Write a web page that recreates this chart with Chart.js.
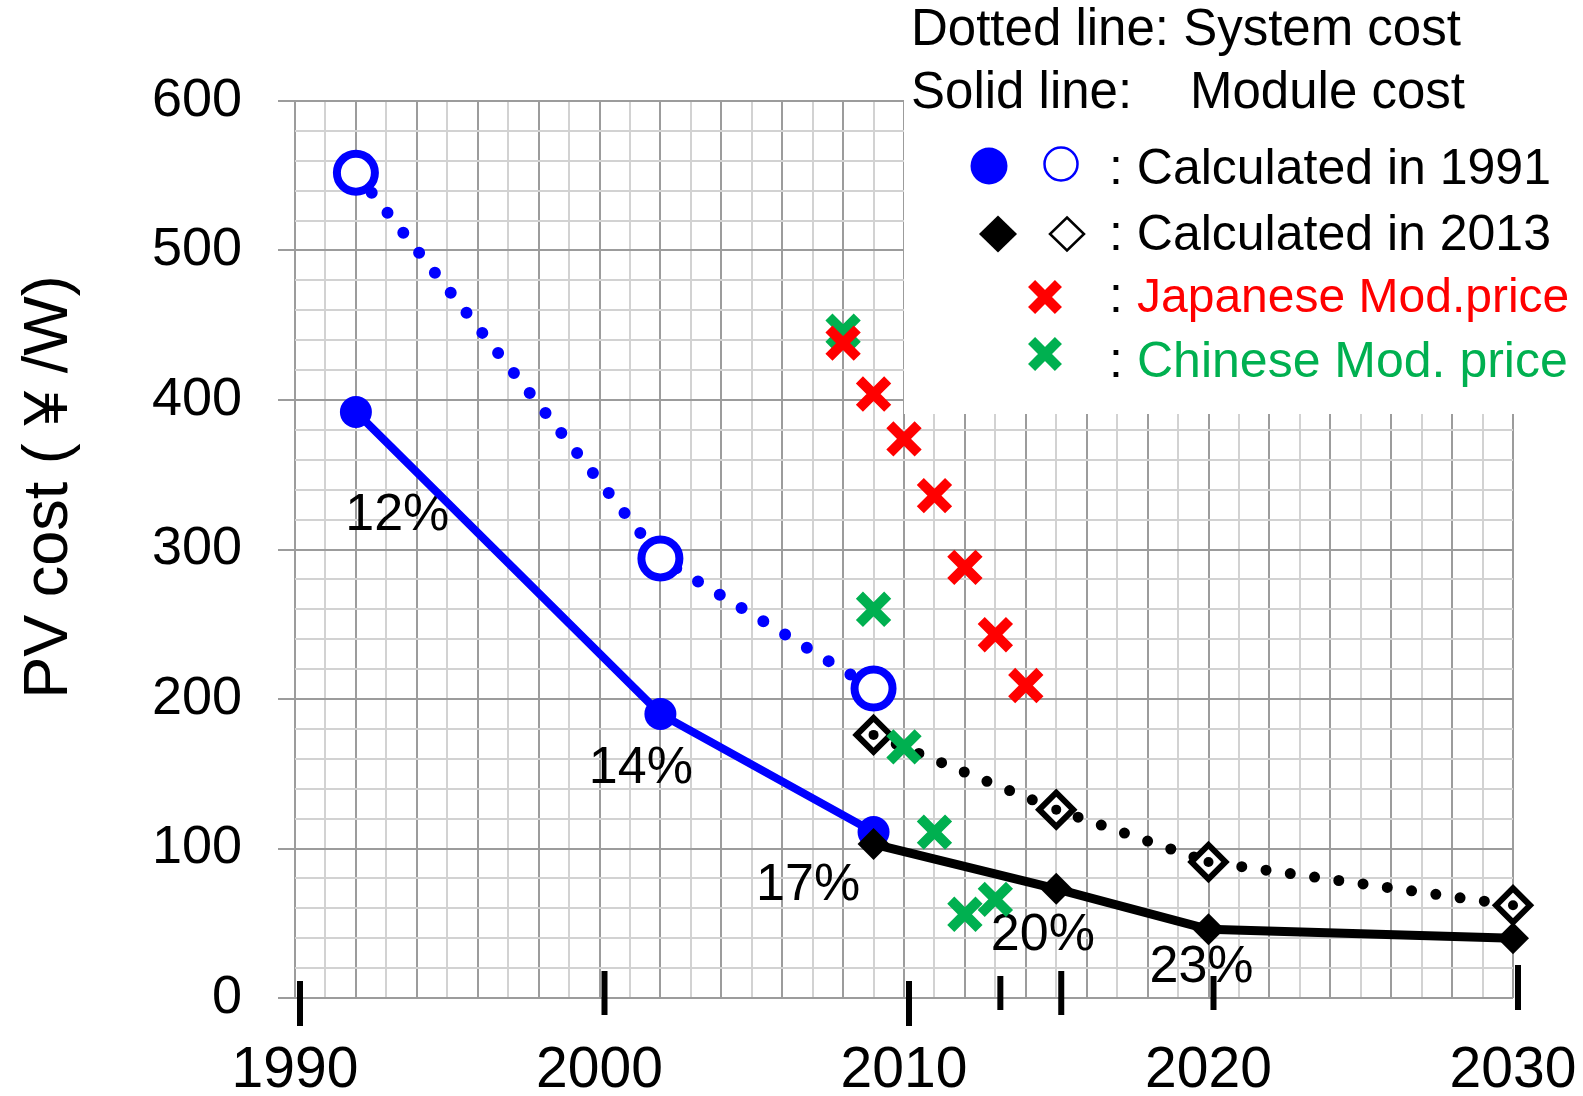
<!DOCTYPE html>
<html>
<head>
<meta charset="utf-8">
<script src="https://cdn.jsdelivr.net/npm/chart.js@4.4.0/dist/chart.umd.min.js"></script>
<style>
html, body { margin: 0; padding: 0; background: #fff; }
#wrap { width: 1583px; height: 1096px; position: relative; }
</style>
</head>
<body>
<div id="wrap"><canvas id="pvCost"></canvas></div>
<script>
// cost calculated in 1991
var years1991 = [1992, 2002, 2009]
var moduleCost1991 = [392, 190, 111]
var systemCost1991 = [552, 294, 207]

// cost calculated in 2013
var years2013 = [2009, 2015, 2020, 2030]
var moduleCost2013 = [103, 73, 46, 40]
var systemCost2013 = [176, 126, 91, 62]

// module market prices
var japanYears = [2008, 2009, 2010, 2011, 2012, 2013, 2014]
var japanPrice = [438, 404, 374, 336, 288, 243, 209]
var chinaYears = [2008, 2009, 2010, 2011, 2012, 2013]
var chinaPrice = [446, 260, 168, 111, 56, 66]

// learning rates next to the module cost lines
var rateLabels = ['12%', '14%', '17%', '20%', '23%']

// axes
var xTickLabels = [1990, 2000, 2010, 2020, 2030]
var yTickLabels = [0, 100, 200, 300, 400, 500, 600]
var markYears = [1990, 2000, 2010, 2013, 2015, 2020, 2030]
var yTitle = 'PV cost ( ¥ /W)'

var BLUE = '#0000ff'
var RED = '#ff0000'
var GREEN = '#00b050'
var FONT = "'Liberation Sans', Arial, sans-serif"

// where the rate labels sit (in data units) and the little "|" marks under the axis
var ratePos = [[1993.36, 322.5], [2001.36, 153.6], [2006.85, 75], [2014.56, 41.6], [2019.77, 20.2]]
var markSpans = [[981, 1026], [971, 1015], [981, 1026], [976, 1010], [971, 1015], [976, 1010], [965, 1010]]

function toPoints(xs, ys) {
    var pts = new Array()
    for (var i = 0; i < xs.length; i++) {
        pts.push({x: xs[i], y: ys[i]})
    }
    return pts
}

function drawCross(ctx, x, y, r, color, w) {
    var d = r * Math.SQRT1_2
    ctx.save()
    ctx.strokeStyle = color
    ctx.lineWidth = w
    ctx.beginPath()
    ctx.moveTo(x - d, y - d); ctx.lineTo(x + d, y + d)
    ctx.moveTo(x + d, y - d); ctx.lineTo(x - d, y + d)
    ctx.stroke()
    ctx.restore()
}

function diamond(ctx, x, y, hw, hh) {
    ctx.beginPath()
    ctx.moveTo(x, y - hh)
    ctx.lineTo(x + hw, y)
    ctx.lineTo(x, y + hh)
    ctx.lineTo(x - hw, y)
    ctx.closePath()
}

var overlay = {
    id: 'overlay',
    beforeDatasetsDraw: function(chart) {
        var ctx = chart.ctx
        var xs = chart.scales.x, ys = chart.scales.y
        ctx.save()
        // white legend box hides the grid in the top right
        ctx.fillStyle = '#fff'
        ctx.fillRect(904, 0, chart.width - 904, 414)
        // learning rates
        ctx.fillStyle = '#000'
        ctx.font = '52px ' + FONT
        ctx.textAlign = 'center'
        ctx.textBaseline = 'middle'
        for (var i = 0; i < rateLabels.length; i++) {
            ctx.fillText(rateLabels[i], xs.getPixelForValue(ratePos[i][0]), ys.getPixelForValue(ratePos[i][1]))
        }
        ctx.restore()
    },
    afterDatasetsDraw: function(chart) {
        var ctx = chart.ctx
        var xs = chart.scales.x
        ctx.save()
        ctx.strokeStyle = '#000'
        ctx.lineWidth = 6
        for (var i = 0; i < markYears.length; i++) {
            var px = xs.getPixelForValue(markYears[i]) + 5
            ctx.beginPath()
            ctx.moveTo(px, markSpans[i][0])
            ctx.lineTo(px, markSpans[i][1])
            ctx.stroke()
        }

        // y axis title
        ctx.save()
        ctx.translate(67, 487)
        ctx.rotate(-Math.PI / 2)
        ctx.fillStyle = '#000'
        ctx.font = '63px ' + FONT
        ctx.textAlign = 'center'
        ctx.textBaseline = 'alphabetic'
        ctx.fillText(yTitle, 0, 0)
        ctx.restore()

        // legend
        ctx.textAlign = 'left'
        ctx.textBaseline = 'alphabetic'
        ctx.fillStyle = '#000'
        ctx.font = '51px ' + FONT
        ctx.fillText('Dotted line: System cost', 911, 45)
        ctx.fillText('Solid line:', 911, 108)
        ctx.fillText('Module cost', 1190, 108)

        ctx.font = '50px ' + FONT
        ctx.fillStyle = BLUE
        ctx.beginPath(); ctx.arc(989, 166, 18.5, 0, Math.PI * 2); ctx.fill()
        ctx.strokeStyle = BLUE
        ctx.lineWidth = 2.5
        ctx.beginPath(); ctx.arc(1061, 164, 16.5, 0, Math.PI * 2); ctx.stroke()
        ctx.fillStyle = '#000'
        ctx.fillText(': Calculated in 1991', 1109, 184)

        diamond(ctx, 998, 234, 19, 18.5); ctx.fill()
        ctx.strokeStyle = '#000'
        diamond(ctx, 1067, 234, 17, 16.5); ctx.stroke()
        ctx.fillText(': Calculated in 2013', 1109, 250)

        drawCross(ctx, 1045, 297, 19, RED, 10)
        ctx.fillStyle = '#000'
        ctx.fillText(':', 1109, 312)
        ctx.font = '48px ' + FONT
        ctx.fillStyle = RED
        ctx.fillText('Japanese Mod.price', 1137, 312)

        ctx.font = '50px ' + FONT
        drawCross(ctx, 1045, 354, 19, GREEN, 10)
        ctx.fillStyle = '#000'
        ctx.fillText(':', 1109, 377)
        ctx.fillStyle = GREEN
        ctx.fillText('Chinese Mod. price', 1137, 377)
        ctx.restore()
    }
}

var canvas = document.querySelector('#pvCost')

var pvChart = new Chart(canvas, {
    type: 'scatter',
    data: {
        datasets: [
            {   // centre dots of the open diamonds
                data: toPoints(years2013, systemCost2013),
                showLine: false,
                pointStyle: 'circle',
                pointRadius: 5,
                pointBackgroundColor: '#000',
                pointBorderWidth: 0
            },
            {
                label: 'Japanese Mod.price',
                data: toPoints(japanYears, japanPrice),
                showLine: false,
                pointStyle: 'crossRot',
                pointRadius: 20,
                pointBorderColor: RED,
                pointBorderWidth: 10
            },
            {
                label: 'Chinese Mod. price',
                data: toPoints(chinaYears, chinaPrice),
                showLine: false,
                pointStyle: 'crossRot',
                pointRadius: 20,
                pointBorderColor: GREEN,
                pointBorderWidth: 10
            },
            {
                label: 'Module cost (2013)',
                data: toPoints(years2013, moduleCost2013),
                showLine: true,
                borderColor: '#000',
                borderWidth: 9,
                pointStyle: 'rectRot',
                pointRadius: 16,
                pointBackgroundColor: '#000',
                pointBorderColor: '#000',
                pointBorderWidth: 0
            },
            {
                label: 'System cost (2013)',
                data: toPoints(years2013, systemCost2013),
                showLine: true,
                borderColor: '#000',
                borderWidth: 11,
                borderDash: [0, 24.5],
                borderCapStyle: 'round',
                pointStyle: 'rectRot',
                pointRadius: 17,
                pointBackgroundColor: '#fff',
                pointBorderColor: '#000',
                pointBorderWidth: 6
            },
            {
                label: 'Module cost (1991)',
                data: toPoints(years1991, moduleCost1991),
                showLine: true,
                borderColor: BLUE,
                borderWidth: 8,
                pointStyle: 'circle',
                pointRadius: 16,
                pointBackgroundColor: BLUE,
                pointBorderColor: BLUE,
                pointBorderWidth: 0
            },
            {
                label: 'System cost (1991)',
                data: toPoints(years1991, systemCost1991),
                showLine: true,
                borderColor: BLUE,
                borderWidth: 12,
                borderDash: [0, 25.5],
                borderCapStyle: 'round',
                pointStyle: 'circle',
                pointRadius: 19,
                pointBackgroundColor: '#fff',
                pointBorderColor: BLUE,
                pointBorderWidth: 8
            }
        ]
    },
    options: {
        responsive: true,
        maintainAspectRatio: false,
        animation: false,
        events: [],
        layout: { padding: { top: 101, right: 70, left: 0, bottom: 0 } },
        elements: { line: { tension: 0 } },
        datasets: { scatter: { clip: false } },
        plugins: {
            legend: { display: false },
            tooltip: { enabled: false }
        },
        scales: {
            x: {
                type: 'linear',
                min: 1990,
                max: 2030,
                afterFit: function(scale) {
                    scale.height = 98
                    scale.paddingLeft = 0
                    scale.paddingRight = 0
                },
                border: { display: false },
                grid: {
                    drawTicks: false,
                    color: function(c) { return c.tick.value % 2 === 0 ? '#9c9c9c' : '#d2d2d2' },
                    lineWidth: 2
                },
                ticks: {
                    stepSize: 1,
                    autoSkip: false,
                    maxRotation: 0,
                    padding: 39,
                    color: '#000',
                    font: { family: FONT, size: 57 },
                    callback: function(v) { return xTickLabels.indexOf(v) >= 0 ? String(v) : '' }
                }
            },
            y: {
                min: 0,
                max: 600,
                afterFit: function(scale) { scale.width = 295 },
                border: { display: false },
                grid: {
                    tickLength: 17,
                    color: function(c) { return c.tick.value % 100 === 0 ? '#9c9c9c' : '#d2d2d2' },
                    tickColor: function(c) { return c.tick.value % 100 === 0 ? '#9c9c9c' : 'rgba(0,0,0,0)' },
                    lineWidth: 2
                },
                ticks: {
                    stepSize: 20,
                    autoSkip: false,
                    padding: 36,
                    color: '#000',
                    font: { family: FONT, size: 54 },
                    callback: function(v) { return yTickLabels.indexOf(v) >= 0 ? String(v) : '' }
                }
            }
        }
    },
    plugins: [overlay]
});
</script>
</body>
</html>
